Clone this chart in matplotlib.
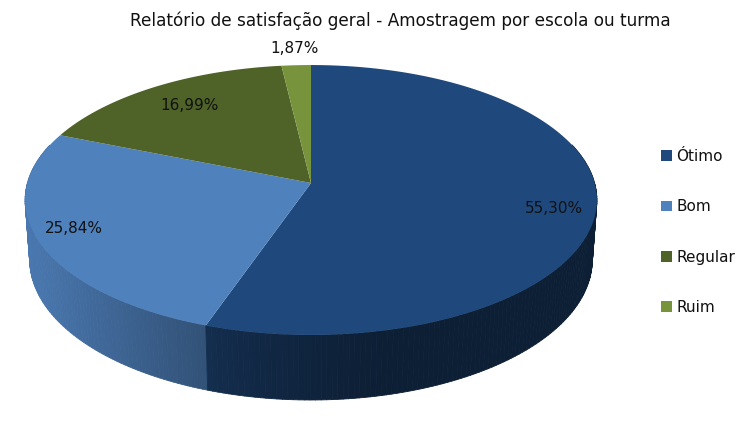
import numpy as np
import matplotlib
matplotlib.use('Agg')
import matplotlib.pyplot as plt
import matplotlib.patches as mpatches
from matplotlib.transforms import Transform
from matplotlib.path import Path
from matplotlib.collections import PolyCollection

# ---------------- data ----------------
categories = ['Ótimo', 'Bom', 'Regular', 'Ruim']
values = [55.30, 25.84, 16.99, 1.87]
pct_labels = ['55,30%', '25,84%', '16,99%', '1,87%']
colors = ['#1F497D', '#4F81BD', '#4F6228', '#77933C']
title = 'Relatório de satisfação geral - Amostragem por escola ou turma'

# ---------------- 3D camera (pixels) ----------------
CX, CY = 311.0, 183.0
ALPHA = np.arcsin(0.4683)
DIST = 7.02
FOC = 1991.0
DEPTH = 0.2408
SA, CA = np.sin(ALPHA), np.cos(ALPHA)


def project(u, v, h=0.0):
    u = np.asarray(u, float)
    v = np.asarray(v, float)
    dep = DIST + v * CA - h * SA
    X = CX + FOC * u / dep
    Y = CY - FOC * (v * SA + h * CA) / dep
    return X, Y


class Persp(Transform):
    input_dims = output_dims = 2
    is_separable = False
    has_inverse = False

    def transform_non_affine(self, values):
        values = np.asarray(values, float).reshape(-1, 2)
        X, Y = project(values[:, 0], values[:, 1])
        return np.column_stack([X, Y])

    def transform_path_non_affine(self, path):
        out, codes = [], []
        ts = np.linspace(0, 1, 24)[1:]
        for seg, code in path.iter_bezier():
            if code == Path.MOVETO:
                pts = np.asarray(seg.control_points)[-1:]
                c = [Path.MOVETO]
            else:
                pts = np.asarray(seg(ts))
                c = [Path.LINETO] * len(pts)
            out.append(pts)
            codes.extend(c)
        v = np.concatenate(out)
        X, Y = project(v[:, 0], v[:, 1])
        return Path(np.column_stack([X, Y]), codes)


def shade(t_deg):
    c = max(0.0, np.cos(np.radians(t_deg - 195.0)))
    return 0.42 + 0.5 * c ** 1.5


fig = plt.figure(figsize=(7.55, 4.30), dpi=100)
ax = fig.add_axes([0, 0, 1, 1])

wedges, _, autotexts = ax.pie(values, colors=colors, startangle=90,
                              counterclock=False, radius=1.0,
                              autopct='%1.2f%%', pctdistance=0.85,
                              wedgeprops=dict(linewidth=0))
ax.set_aspect('auto')
ax.set_xlim(0, 755)
ax.set_ylim(430, 0)
ax.axis('off')

P = Persp()
for w in wedges:
    w.set_transform(P + ax.transData)
    w.set_zorder(3)

# ---------------- side walls ----------------
quads, qcols, qkey = [], [], []
for w, col in zip(wedges, colors):
    t1, t2 = w.theta1, w.theta2
    n = max(2, int(np.ceil((t2 - t1) / 1.0)))
    ts = np.linspace(t1, t2, n + 1)
    base = np.array(matplotlib.colors.to_rgb(col))
    for a, b in zip(ts[:-1], ts[1:]):
        m = 0.5 * (a + b)
        if np.sin(np.radians(m)) > 0.3:
            continue
        ra, rb = np.radians(a), np.radians(b)
        uu = np.array([np.cos(ra), np.cos(rb), np.cos(rb), np.cos(ra)])
        vv = np.array([np.sin(ra), np.sin(rb), np.sin(rb), np.sin(ra)])
        hh = np.array([0, 0, -DEPTH, -DEPTH])
        X, Y = project(uu, vv, hh)
        quads.append(np.column_stack([X, Y]))
        qcols.append(np.clip(base * shade(m % 360), 0, 1))
        qkey.append(np.sin(np.radians(m)))
order = np.argsort(qkey)[::-1]
pc = PolyCollection([quads[i] for i in order],
                    facecolors=[qcols[i] for i in order],
                    edgecolors=[qcols[i] for i in order],
                    linewidths=0.6, zorder=2)
ax.add_collection(pc)

# ---------------- labels ----------------
label_r = [0.858, 0.865, 0.782, 1.163]
label_dt = [-3.0, -2.1, -1.2, 0.0]
for txt, lab, w, r, dt in zip(autotexts, pct_labels, wedges, label_r, label_dt):
    mid = np.radians(0.5 * (w.theta1 + w.theta2) + dt)
    txt.set_text(lab)
    txt.set_position((r * np.cos(mid), r * np.sin(mid)))
    txt.set_transform(P + ax.transData)
    txt.set_fontsize(11)
    txt.set_color('#111111')
    txt.set_zorder(5)

fig.text(400.5 / 755, 1 - 25.7 / 430, title, ha='center', va='baseline',
         fontsize=12.2, color='#111111')

handles = [mpatches.Patch(facecolor=c, edgecolor='none') for c in colors]
fig.legend(handles, categories, loc='upper left',
           bbox_to_anchor=(661 / 755, 1 - 149 / 430),
           frameon=False, fontsize=11, handlelength=0.72, handleheight=0.72,
           handletextpad=0.3, labelspacing=2.31, borderpad=0,
           borderaxespad=0, labelcolor='#111111')

fig.savefig('out.png', dpi=100)
